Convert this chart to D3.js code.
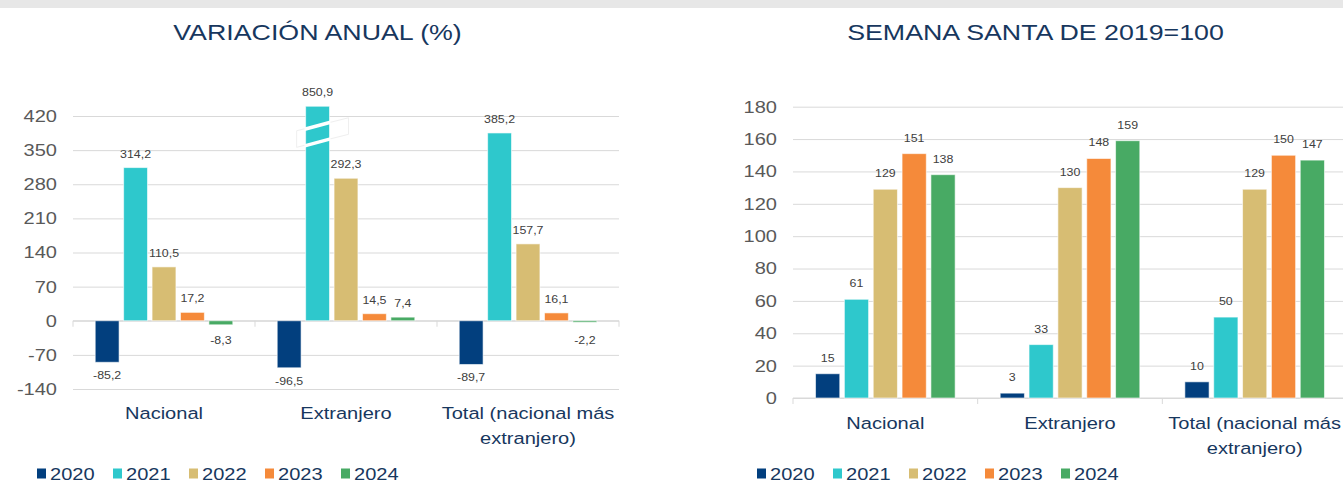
<!DOCTYPE html>
<html>
<head>
<meta charset="utf-8">
<script src="https://cdn.jsdelivr.net/npm/d3@7"></script>
<style>
  body { margin: 0; background: #fff; }
  svg { display: block; }
</style>
</head>
<body>
<div id="chart"></div>
<script>
// data
var categories = ["Nacional", "Extranjero", "Total (nacional más extranjero)"];
var categoryLines = [["Nacional"], ["Extranjero"], ["Total (nacional más", "extranjero)"]];
var years = ["2020", "2021", "2022", "2023", "2024"];
var colors = ["#023f7e", "#2ec8cc", "#d7bd73", "#f58a3a", "#48aa64"];

// variación anual (%), one array per year: Nacional, Extranjero, Total
var var2020 = [-85.2, -96.5, -89.7];
var var2021 = [314.2, 850.9, 385.2];
var var2022 = [110.5, 292.3, 157.7];
var var2023 = [17.2, 14.5, 16.1];
var var2024 = [-8.3, 7.4, -2.2];
var varTicks = [-140, -70, 0, 70, 140, 210, 280, 350, 420];

// semana santa de 2019 = 100
var idx2020 = [15, 3, 10];
var idx2021 = [61, 33, 50];
var idx2022 = [129, 130, 129];
var idx2023 = [151, 148, 150];
var idx2024 = [138, 159, 147];
var idxTicks = [0, 20, 40, 60, 80, 100, 120, 140, 160, 180];

var SX = 1.18; // text in the source is stretched horizontally
var FONT = "'Liberation Sans', Arial, sans-serif";
var navy = "#17375e";

var svgWidth = 1343;
var svgHeight = 483;

var svg = d3.select("#chart").append("svg")
    .attr("width", svgWidth).attr("height", svgHeight);

svg.append("rect").attr("width", svgWidth).attr("height", svgHeight).attr("fill", "#fff");
svg.append("rect").attr("width", svgWidth).attr("height", 8).attr("fill", "#e7e7e7");

// plain hyphen for negatives, comma as decimal mark
var commaFmt = function(v) { return d3.format(".1f")(v).replace("−", "-").replace(".", ","); };
var intFmt = function(v) { return d3.format("d")(v).replace("−", "-"); };

function addText(g, x, y, str, size, color, anchor) {
    return g.append("text")
        .attr("transform", `translate(${x},${y}) scale(${SX},1)`)
        .attr("text-anchor", anchor || "middle")
        .attr("font-family", FONT)
        .attr("font-size", size)
        .attr("fill", color)
        .text(str);
}

function drawChart(opt) {
    var g = svg.append("g");
    var rows = [opt.s2020, opt.s2021, opt.s2022, opt.s2023, opt.s2024];

    var x = d3.scaleBand().domain(categories).range([opt.x0, opt.x1]);
    var inner = d3.scaleBand().domain(years)
        .range([x.bandwidth() * 0.122, x.bandwidth() * 0.878])
        .paddingInner(0.16);
    var y = d3.scaleLinear().domain(opt.domain).range(opt.yRange);

    // title
    addText(g, opt.titleX, 39.5, opt.title, 22.7, navy);

    // gridlines
    var grid = g.append("g")
        .attr("transform", `translate(${opt.x0},0)`)
        .call(d3.axisLeft(y).tickValues(opt.ticks).tickSize(-(opt.x1 - opt.x0)).tickFormat(""));
    grid.select(".domain").remove();
    grid.selectAll("line").attr("stroke", "#d9d9d9");

    // y labels
    var yAxis = g.append("g")
        .attr("transform", `translate(${opt.x0 - 16},0)`)
        .call(d3.axisLeft(y).tickValues(opt.ticks).tickSize(0).tickPadding(0).tickFormat(intFmt));
    yAxis.select(".domain").remove();
    yAxis.selectAll("text")
        .attr("transform", `scale(${SX},1)`)
        .attr("x", 0)
        .attr("font-family", FONT)
        .attr("font-size", 17)
        .attr("fill", "#595959");

    // category axis at zero
    var xAxis = g.append("g")
        .attr("transform", `translate(0,${y(0)})`);
    xAxis.append("line")
        .attr("x1", opt.x0).attr("x2", opt.x1)
        .attr("stroke", "#d9d9d9");
    xAxis.selectAll(".sep").data(categories.concat([null])).join("line")
        .attr("class", "sep")
        .attr("x1", (d, i) => opt.x0 + i * x.bandwidth())
        .attr("x2", (d, i) => opt.x0 + i * x.bandwidth())
        .attr("y1", 0).attr("y2", 6)
        .attr("stroke", "#d9d9d9");

    // bars
    var cap = opt.cap;
    rows.forEach(function(vals, si) {
        var yr = years[si];
        var bars = g.append("g");
        vals.forEach(function(v, ci) {
            var bx = x(categories[ci]) + inner(yr);
            var top = y(Math.min(v, cap));
            var y0 = y(0);
            bars.append("rect")
                .attr("x", bx)
                .attr("y", Math.min(top, y0))
                .attr("width", inner.bandwidth())
                .attr("height", Math.max(1.5, Math.abs(y0 - top)))
                .attr("fill", colors[si])
                .attr("stroke", "#ffffff")
                .attr("stroke-opacity", 0.6)
                .attr("stroke-width", 1);

            var ly = v >= 0 ? Math.min(top, y0) - opt.labelUp
                : Math.max(top + 13, y0 + 19);
            addText(g, bx + inner.bandwidth() / 2, ly + 4, opt.fmt(v), 10.5, "#404040");

            if (v > cap) {
                // axis-break marks on the clipped bar
                var w = inner.bandwidth();
                var brk = g.append("g");
                var yt = y(400), yb = y(366);
                brk.append("polygon")
                    .attr("points", [
                        [bx - 9, yt + 5], [bx + w + 19, yt - 8],
                        [bx + w + 19, yb - 8], [bx - 9, yb + 5]
                    ].map(p => p.join(",")).join(" "))
                    .attr("fill", "none")
                    .attr("stroke", "#efefef")
                    .attr("stroke-width", 1);
                [yt, yb].forEach(function(yc) {
                    brk.append("line")
                        .attr("x1", bx - 1).attr("y1", yc + 3.5)
                        .attr("x2", bx + w + 1).attr("y2", yc - 3.5)
                        .attr("stroke", "#fff").attr("stroke-width", 3.4);
                });
            }
        });
    });

    // category labels
    categoryLines.forEach(function(lines, ci) {
        lines.forEach(function(line, li) {
            addText(g, x(categories[ci]) + x.bandwidth() / 2, opt.catY + li * 24.5, line, 17, navy);
        });
    });

    // legend
    years.forEach(function(yr, i) {
        var lx = opt.legendX + i * 76;
        g.append("rect")
            .attr("x", lx).attr("y", 468.5)
            .attr("width", 9).attr("height", 10)
            .attr("fill", colors[i]);
        addText(g, lx + 13, 479.5, yr, 17, navy, "start");
    });
}

drawChart({
    title: "VARIACIÓN ANUAL (%)",
    titleX: 317.5,
    s2020: var2020, s2021: var2021, s2022: var2022, s2023: var2023, s2024: var2024,
    domain: [-140, 420], yRange: [389, 116], ticks: varTicks,
    cap: 440,
    x0: 73, x1: 619,
    labelUp: 14,
    fmt: commaFmt,
    catY: 419,
    legendX: 37
});

drawChart({
    title: "SEMANA SANTA DE 2019=100",
    titleX: 1035.5,
    s2020: idx2020, s2021: idx2021, s2022: idx2022, s2023: idx2023, s2024: idx2024,
    domain: [0, 180], yRange: [398, 106.7], ticks: idxTicks,
    cap: Infinity,
    x0: 793, x1: 1347,
    labelUp: 16,
    fmt: intFmt,
    catY: 429,
    legendX: 757
});
</script>
</body>
</html>
